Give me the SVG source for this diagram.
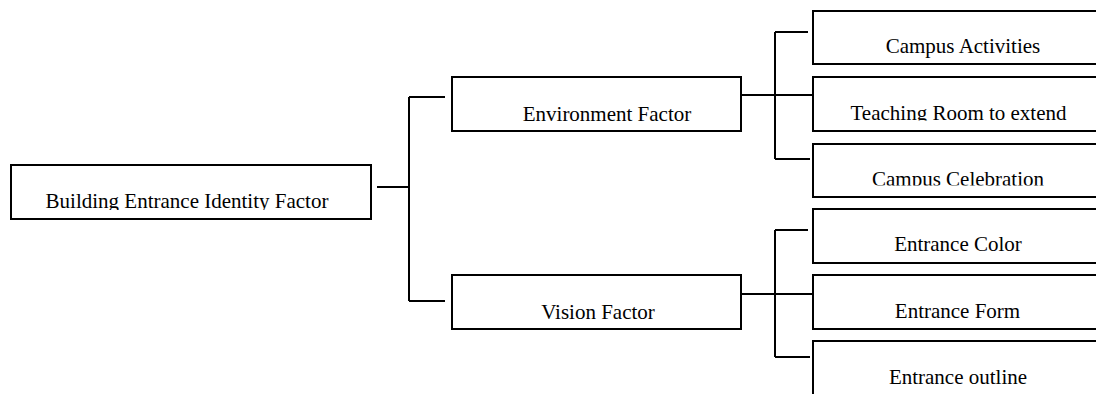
<svg xmlns="http://www.w3.org/2000/svg" width="1096" height="394" viewBox="0 0 1096 394">
<style>
.box{fill:#fff;stroke:#000;stroke-width:2}
.lbl{font-family:"Liberation Serif","Times New Roman",serif;font-size:21px;fill:#000;text-anchor:middle}
.con{fill:none;stroke:#000;stroke-width:2}
</style>
<defs>
<clipPath id="c0"><rect x="11" y="165" width="360" height="45"/></clipPath>
<clipPath id="c2"><rect x="813" y="77" width="300" height="43.5"/></clipPath>
<clipPath id="c3"><rect x="813" y="144" width="300" height="41.5"/></clipPath>
</defs>
<rect width="1096" height="394" fill="#fff"/>
<g id="connectors">
<path class="con" d="M377 187H409M409 97V301M409 97H445M409 301H445"/>
<path class="con" d="M741 95H812M775 32V159M775 32H808M775 159H810"/>
<path class="con" d="M741 294H812M775 230V357M775 230H808M775 357H810"/>
</g>
<g id="root"><rect class="box" x="11" y="165" width="360" height="54"/><text class="lbl" x="187" y="208" clip-path="url(#c0)">Building Entrance Identity Factor</text></g>
<g id="env"><rect class="box" x="452" y="77" width="289" height="54"/><text class="lbl" x="607" y="121">Environment Factor</text></g>
<g id="vision"><rect class="box" x="452" y="275" width="289" height="54"/><text class="lbl" x="598" y="319">Vision Factor</text></g>
<g id="campus-activities"><rect class="box" x="813" y="11" width="300" height="53"/><text class="lbl" x="963" y="53">Campus Activities</text></g>
<g id="teaching-room"><rect class="box" x="813" y="77" width="300" height="54"/><text class="lbl" x="958.5" y="120" clip-path="url(#c2)">Teaching Room to extend</text></g>
<g id="campus-celebration"><rect class="box" x="813" y="144" width="300" height="53"/><text class="lbl" x="958" y="186" clip-path="url(#c3)">Campus Celebration</text></g>
<g id="entrance-color"><rect class="box" x="813" y="209" width="300" height="54"/><text class="lbl" x="958" y="251">Entrance Color</text></g>
<g id="entrance-form"><rect class="box" x="813" y="275" width="300" height="54"/><text class="lbl" x="957.5" y="318">Entrance Form</text></g>
<g id="entrance-outline"><rect class="box" x="813" y="341" width="300" height="60"/><text class="lbl" x="958" y="384">Entrance outline</text></g>
</svg>
